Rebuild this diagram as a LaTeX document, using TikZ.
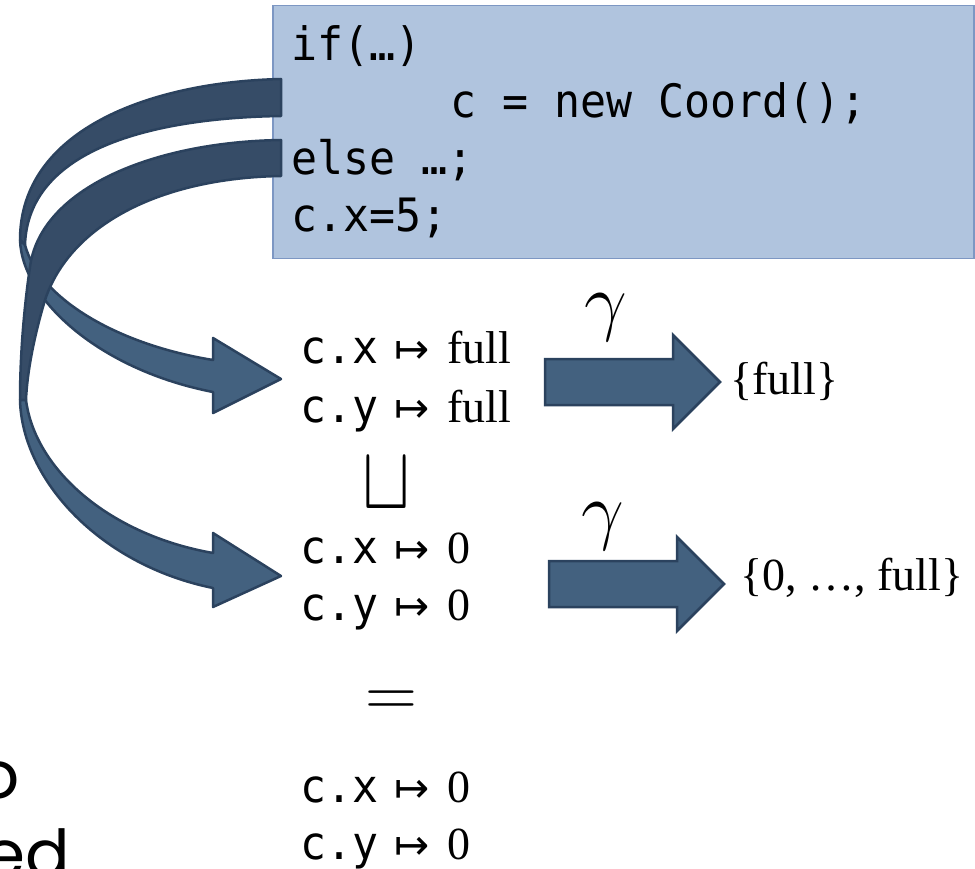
\RequirePackage{fix-cm}
\documentclass[tikz,border=0pt]{standalone}
\usepackage{fontspec}
\newfontfamily\codefont[FakeStretch=0.94]{DejaVu Sans Mono}
\newfontfamily\serifx{Liberation Serif}
\newfontfamily\symfont{DejaVu Sans}
\newfontfamily\bigsans{Poppins}
\definecolor{boxfill}{HTML}{B0C4DE}
\definecolor{boxline}{HTML}{7D97C3}
\definecolor{darkband}{HTML}{364C67}
\definecolor{lightband}{HTML}{43617F}
\definecolor{bandline}{HTML}{2B425E}
\newcommand{\myrow}[2]{\makebox[76pt][l]{\codefont #1}\makebox[71pt][c]{\symfont\fontsize{42}{44}\selectfont ↦}{\serifx #2}}
\tikzset{
  codebox/.style={draw=boxline, fill=boxfill, line width=1.5pt, inner sep=0pt, anchor=north west},
  codeline/.style={anchor=base west, inner sep=0pt, font=\codefont\fontsize{46}{50}\selectfont},
  maprow/.style={anchor=base west, inner sep=0pt, font=\fontsize{46}{50}\selectfont},
  bigsym/.style={inner sep=0pt, anchor=base, font=\fontsize{72}{76}\selectfont},
  gammalab/.style={inner sep=0pt, font=\fontsize{76}{80}\selectfont},
  settext/.style={anchor=base west, inner sep=0pt, font=\serifx\fontsize{46}{50}\selectfont},
  backband/.style={fill=darkband, draw=bandline, line width=2.5pt, line join=round},
  frontband/.style={fill=lightband, draw=bandline, line width=2.5pt, line join=round},
  fatarrow/.style={fill=lightband, draw=bandline, line width=2.5pt, line join=miter},
  cuttext/.style={anchor=base east, inner sep=0pt, font=\bigsans\fontsize{66}{70}\selectfont}
}
\begin{document}
\begin{tikzpicture}[x=1pt,y=-1pt]
\useasboundingbox (0,0) rectangle (975,869);
% code box
\node[codebox, minimum width=701pt, minimum height=253pt] (code) at (272,5) {};
\node[codeline] (l1) at (291,61) {if(…)};
\node[codeline] (l2) at (450,118) {c = new Coord();};
\node[codeline] (l3) at (291,175) {else …;};
\node[codeline] (l4) at (291,232) {c.x=5;};
% curved arrow 1
\coordinate (a1t) at (281,379);
\path[backband] (281,79) .. controls (150,82) and (20,130) .. (20,240)
  -- (25,245) .. controls (28,150) and (150,118) .. (281,116) -- cycle;
\path[frontband] (20,240) .. controls (22,300) and (100,370) .. (213,392)
  -- (213,413) -- (a1t) -- (213,338) -- (213,360)
  .. controls (120,345) and (40,300) .. (25,245) -- cycle;
% curved arrow 2
\coordinate (a2t) at (281,576);
\path[backband] (281,140) .. controls (150,142) and (40,190) .. (30,267)
  .. controls (25,300) and (20,350) .. (20,400)
  -- (26,400) .. controls (27,375) and (33,340) .. (45,300)
  .. controls (70,225) and (160,178) .. (281,176) -- cycle;
\path[frontband] (20,400) .. controls (22,480) and (100,565) .. (213,588)
  -- (213,607) -- (a2t) -- (213,533) -- (213,553)
  .. controls (110,535) and (35,470) .. (26,400) -- cycle;
% abstract values
\node[maprow] (r1x) at (300,363) {\myrow{c.x}{full}};
\node[maprow] (r1y) at (300,422) {\myrow{c.y}{full}};
\node[bigsym] (join) at (386,508) {\scalebox{1}[1.25]{$\sqcup$}};
\node[maprow] (r2x) at (300,563) {\myrow{c.x}{0}};
\node[maprow] (r2y) at (300,620) {\myrow{c.y}{0}};
\node[bigsym] (eq) at (391,716) {$=$};
\node[maprow] (r3x) at (300,802) {\myrow{c.x}{0}};
\node[maprow] (r3y) at (300,859) {\myrow{c.y}{0}};
% gamma arrows
\path[fatarrow] (545,359) -- (673,359) -- (673,335) -- (720,382) -- (673,429) -- (673,405) -- (545,405) -- cycle;
\path[fatarrow] (549,561) -- (677,561) -- (677,537) -- (724,584) -- (677,631) -- (677,607) -- (549,607) -- cycle;
\node[gammalab] (g1) at (606,318) {$\gamma$};
\node[gammalab] (g2) at (603,527) {$\gamma$};
\node[settext] (s1) at (730,394) {\{full\}};
\node[settext] (s2) at (740,590) {\{0, …, full\}};
% cut-off text at the left edge
\node[cuttext] (t1) at (20,798) {o};
\node[cuttext] (t2) at (70,877) {ed};
\end{tikzpicture}
\end{document}
